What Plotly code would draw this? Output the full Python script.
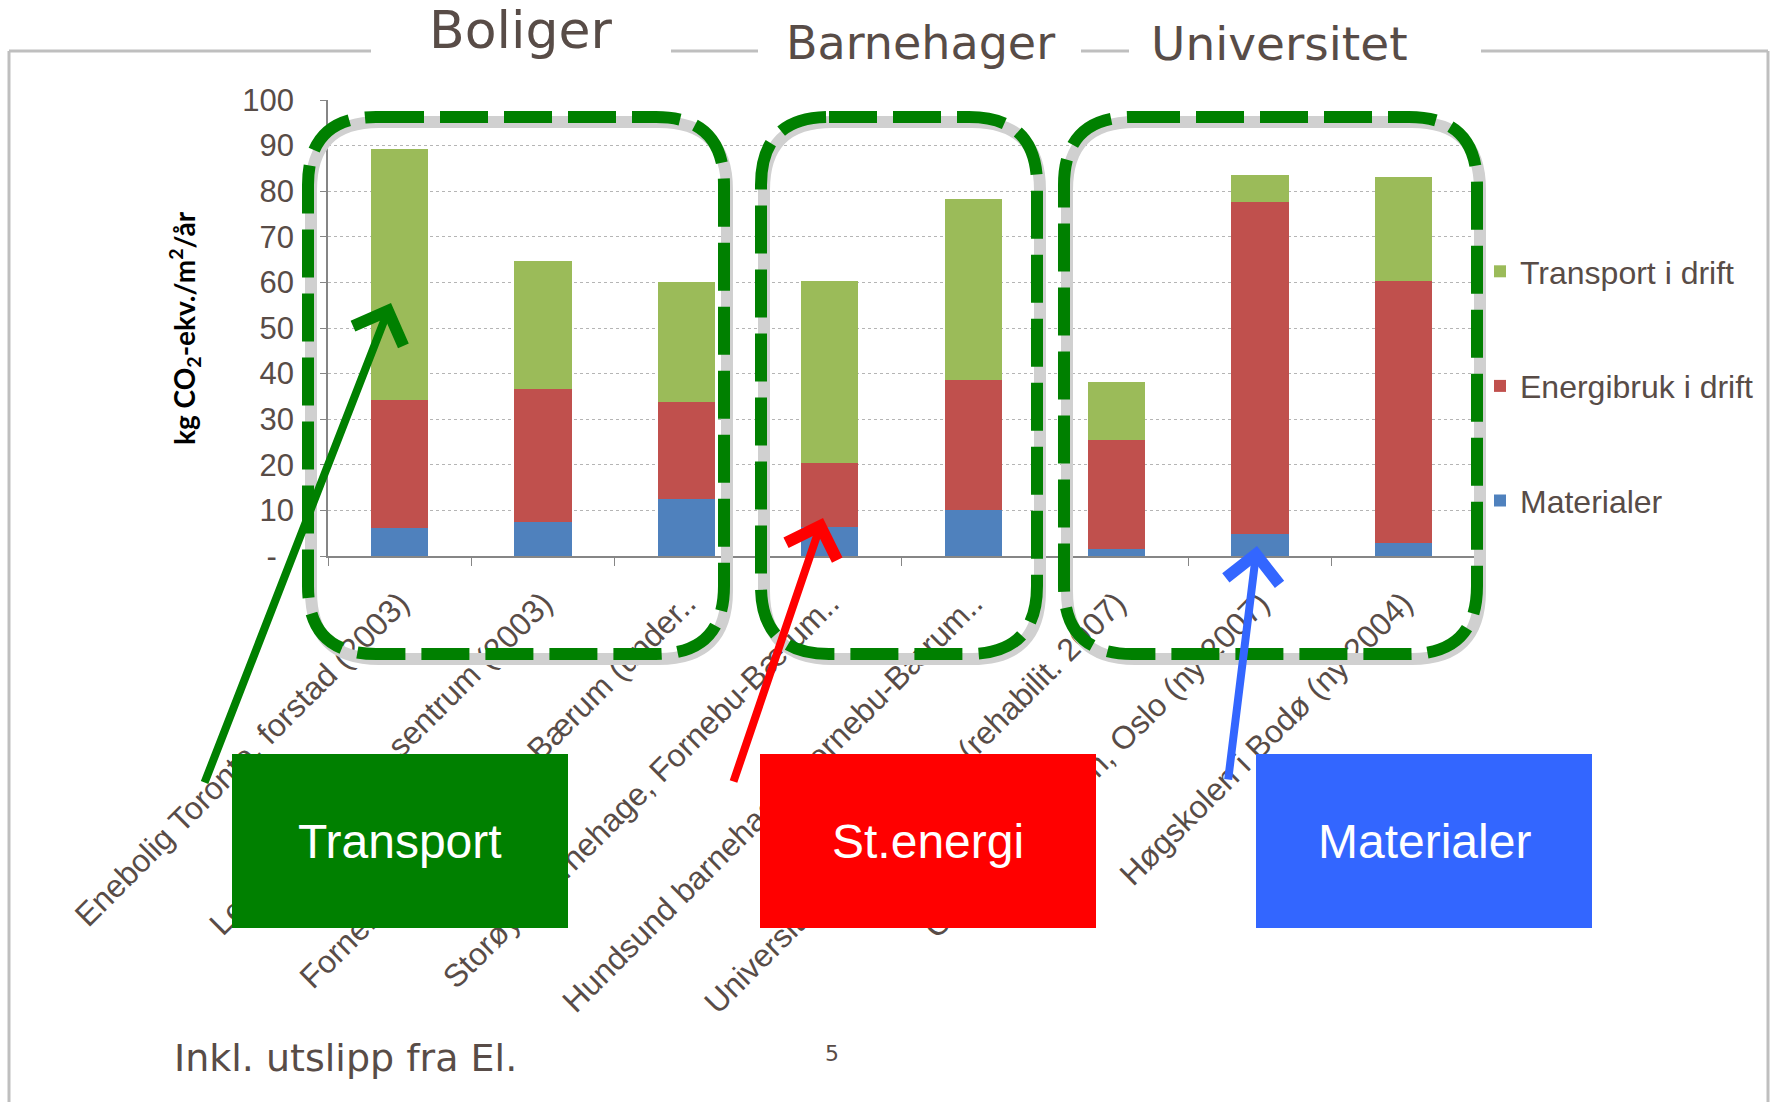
import plotly.graph_objects as go

# ---------------- data ----------------
categories = [
    "Enebolig Toronto, forstad (2003)",
    "Leilighet Toronto, sentrum (2003)",
    "Fornebu boligområde, Bærum (under..",
    "Storøya barnehage, Fornebu-Bærum..",
    "Hundsund barnehage, Fornebu-Bærum..",
    "Universitet, Realfagbygg (rehabilit. 2007)",
    "Campus Nydalen, Oslo (ny 2007)",
    "Høgskolen i Bodø (ny 2004)",
]
materialer = [6.1, 7.5, 12.6, 6.3, 10.1, 1.5, 4.8, 2.9]
energibruk = [28.1, 29.1, 21.2, 14.2, 28.6, 23.9, 72.8, 57.4]
transport = [55.1, 28.1, 26.2, 39.7, 39.7, 12.8, 6.0, 22.8]

series_names = ["Materialer", "Energibruk i drift", "Transport i drift"]
series_colors = ["#4F81BD", "#C0504D", "#9BBB59"]
legend_ranks = [3, 2, 1]

y_tickvals = [0, 10, 20, 30, 40, 50, 60, 70, 80, 90, 100]
y_ticktext = ["-\u00a0\u00a0", "10", "20", "30", "40", "50", "60", "70", "80", "90", "100"]

group_titles = ["Boliger", "Barnehager", "Universitet"]
callouts = ["Transport", "St.energi", "Materialer"]
callout_colors = ["#008000", "#FF0000", "#3366FF"]
y_title = "kg CO<sub>2</sub>-ekv./m<sup>2</sup>/år"
footer = "Inkl. utslipp fra El."
page_no = "5"

# ---------------- geometry (pixels) ----------------
W, H = 1775, 1102
L, R_PX, T, B_PX = 328, 1475, 100, 556
PW, PH = R_PX - L, B_PX - T


def px(X):
    return (X - L) / PW


def py(Y):
    return (B_PX - Y) / PH


def rrect(x0, y0, x1, y1, r):
    pts = [
        ("M", [(x0 + r, y0)]),
        ("L", [(x1 - r, y0)]),
        ("Q", [(x1, y0), (x1, y0 + r)]),
        ("L", [(x1, y1 - r)]),
        ("Q", [(x1, y1), (x1 - r, y1)]),
        ("L", [(x0 + r, y1)]),
        ("Q", [(x0, y1), (x0, y1 - r)]),
        ("L", [(x0, y0 + r)]),
        ("Q", [(x0, y0), (x0 + r, y0)]),
    ]
    s = ""
    for cmd, ps in pts:
        s += cmd + " " + " ".join(f"{px(a):.5f},{py(b):.5f}" for a, b in ps) + " "
    return s + "Z"


TXT = "#584C47"
CHART_FONT = "Liberation Sans, Arial, sans-serif"
SLIDE_FONT = "DejaVu Sans, sans-serif"

fig = go.Figure()
for name, vals, col, rk in zip(series_names, [materialer, energibruk, transport], series_colors, legend_ranks):
    fig.add_trace(go.Bar(
        x=categories, y=vals, name=name, marker=dict(color=col, line=dict(width=0)),
        legendgroup=name, legendrank=rk,
    ))

shapes = []
# slide frame
frame_segments = [(9, 371), (671, 758), (1081, 1129), (1481, 1768)]
for a, b in frame_segments:
    shapes.append(dict(type="line", xref="paper", yref="paper", x0=px(a), x1=px(b), y0=py(51), y1=py(51),
                       line=dict(color="#BFBFBF", width=3), layer="above"))
for xv in (9, 1768):
    shapes.append(dict(type="line", xref="paper", yref="paper", x0=px(xv), x1=px(xv), y0=py(51), y1=py(1102),
                       line=dict(color="#BFBFBF", width=3), layer="above"))

# dashed rounded group boxes
boxes = [(308, 117, 724, 654), (761, 117, 1037, 654), (1064, 117, 1477, 654)]
for (x0, y0, x1, y1) in boxes:
    shapes.append(dict(type="path", xref="paper", yref="paper", path=rrect(x0 + 3, y0 + 5, x1 + 3, y1 + 5, 68),
                       line=dict(color="#D0D0D0", width=12), layer="above"))
for (x0, y0, x1, y1) in boxes:
    shapes.append(dict(type="path", xref="paper", yref="paper", path=rrect(x0, y0, x1, y1, 68),
                       line=dict(color="#008000", width=12, dash="48px,16px"), layer="above"))

# callout rectangles
callout_boxes = [(232, 754, 568, 928), (760, 754, 1096, 928), (1256, 754, 1592, 928)]
for (x0, y0, x1, y1), col in zip(callout_boxes, callout_colors):
    shapes.append(dict(type="rect", xref="paper", yref="paper", x0=px(x0), x1=px(x1), y0=py(y1), y1=py(y0),
                       fillcolor=col, line=dict(width=0), layer="above"))

annotations = []
for (x0, y0, x1, y1), txt in zip(callout_boxes, callouts):
    annotations.append(dict(xref="paper", yref="paper", x=px((x0 + x1) / 2), y=py((y0 + y1) / 2),
                            text=txt, showarrow=False, font=dict(family=CHART_FONT, size=48, color="white"),
                            xanchor="center", yanchor="middle"))

# arrows (tip, start)
arrows = [((391, 303), (204, 784), "#008000"),
          ((823, 518), (733, 783), "#FF0000"),
          ((1257, 546), (1228, 781), "#3366FF")]
for (tx, ty), (sx, sy), col in arrows:
    annotations.append(dict(xref="paper", yref="paper", x=px(tx), y=py(ty), ax=sx - tx, ay=sy - ty,
                            axref="pixel", ayref="pixel", text="", showarrow=True,
                            arrowhead=4, arrowsize=1.3, arrowwidth=8, arrowcolor=col, standoff=0))

# group titles
title_pos = [(520, 30, 52), (920, 43, 46), (1279, 43, 47)]
for txt, (cx, cy, sz) in zip(group_titles, title_pos):
    annotations.append(dict(xref="paper", yref="paper", x=px(cx), y=py(cy), text=txt, showarrow=False,
                            font=dict(family=SLIDE_FONT, size=sz, color=TXT),
                            xanchor="center", yanchor="middle"))

# y axis title
annotations.append(dict(xref="paper", yref="paper", x=px(184), y=py(328), text=y_title, showarrow=False,
                        textangle=-90, font=dict(family="Lato, Liberation Sans, sans-serif", size=28,
                                                 color="black", weight="bold"),
                        xanchor="center", yanchor="middle"))
# footer
annotations.append(dict(xref="paper", yref="paper", x=px(172), y=py(1058), text=footer, showarrow=False,
                        font=dict(family=SLIDE_FONT, size=38, color=TXT), xanchor="left", yanchor="middle"))
annotations.append(dict(xref="paper", yref="paper", x=px(832), y=py(1053), text=page_no, showarrow=False,
                        font=dict(family=SLIDE_FONT, size=22, color=TXT), xanchor="center", yanchor="middle"))

fig.update_layout(
    width=W, height=H,
    margin=dict(l=L, r=W - R_PX, t=T, b=H - B_PX, pad=0),
    paper_bgcolor="white", plot_bgcolor="white",
    barmode="stack", bargap=0.6,
    font=dict(family=CHART_FONT, color=TXT, size=32),
    showlegend=True,
    legend=dict(x=px(1480), xanchor="left", y=py(244), yanchor="top",
                traceorder="grouped", tracegroupgap=70, itemwidth=30,
                font=dict(family=CHART_FONT, size=32, color=TXT),
                bgcolor="rgba(0,0,0,0)"),
    xaxis=dict(type="category", tickangle=-45, ticks="outside", tickson="boundaries", ticklen=8,
               tickcolor="#868686", showline=True, linecolor="#868686", linewidth=1.5,
               tickfont=dict(family=CHART_FONT, size=32, color=TXT), showgrid=False,
               ticklabelstandoff=14),
    yaxis=dict(range=[0, 100], tickvals=y_tickvals, ticktext=y_ticktext, ticks="outside", ticklen=6,
               tickcolor="#868686", showline=True, linecolor="#868686", linewidth=1.5,
               showgrid=True, gridcolor="#B5B5B5", griddash="dot", gridwidth=1, zeroline=False,
               tickfont=dict(family=CHART_FONT, size=31, color=TXT), ticklabelstandoff=20),
    shapes=shapes, annotations=annotations,
)

fig.write_html("out.html")
